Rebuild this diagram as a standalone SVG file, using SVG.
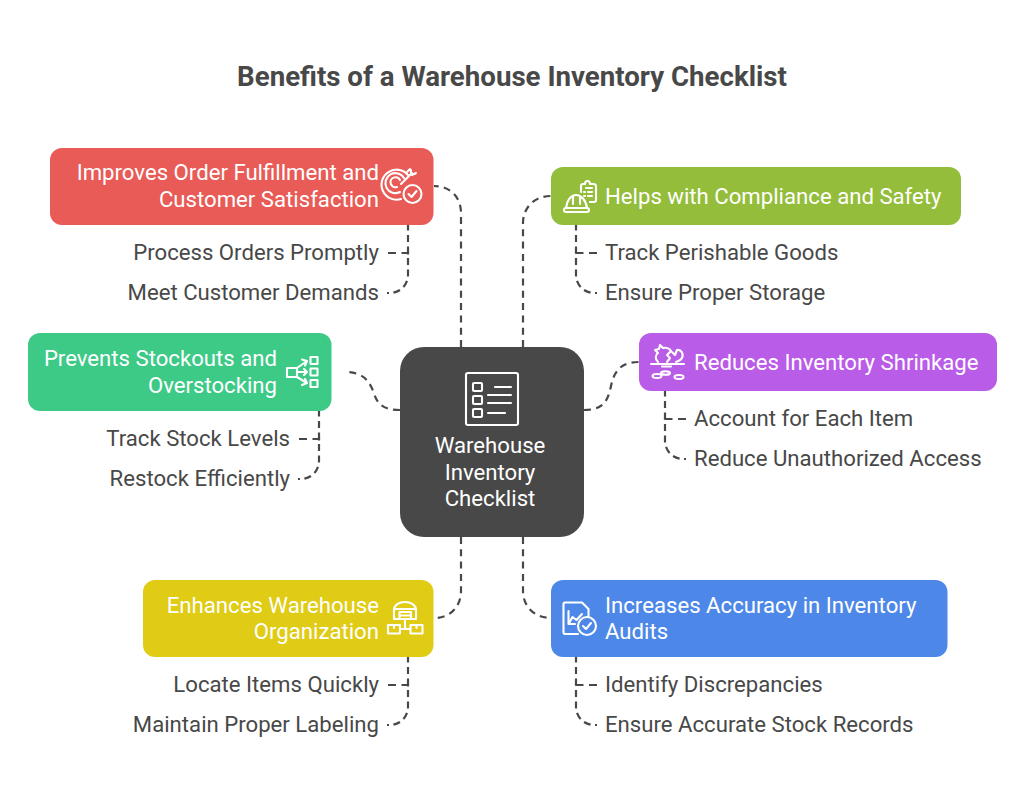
<svg xmlns="http://www.w3.org/2000/svg" width="1024" height="791" viewBox="0 0 1024 791">
<style>
text{font-family:Roboto,"Liberation Sans",sans-serif;font-size:22.16px;fill:#484848}
.t{font-size:27.66px;font-weight:700;text-anchor:middle}
.w{fill:#fff}
.e{text-anchor:end}
.c{text-anchor:middle}
.d{fill:none;stroke:#484848;stroke-width:2.2;stroke-dasharray:7 5.3}
.u{stroke-dasharray:8 5.5}
.l{stroke-dasharray:7 4.5;stroke-dashoffset:5}
.i{fill:none;stroke:#fff;stroke-width:2.1;stroke-linecap:round;stroke-linejoin:round}
</style>
<rect width="1024" height="791" fill="#fff"/>
<text class="t" x="512" y="86.300">Benefits of a Warehouse Inventory Checklist</text>
<g id="connectors">
<path class="d" d="M461 347V213C461 197 450 186 434 186"/>
<path class="d" d="M523 347V223C523 207 535 196 551 196"/>
<path class="d" d="M400 410C380 410 377 402 373 391C369 380 362 372 345 372"/>
<path class="d" d="M584 410C604 410 608 400 611 386C614 372 620 362 639 362"/>
<path class="d" d="M461 537V591C461 607 450 618 434 618"/>
<path class="d" d="M523 537V591C523 607 535 618 551 618"/>
<path class="d u" d="M388 253H408V258"/>
<path class="d l" d="M387 293H390A18 18 0 0 0 408 275V225"/>
<path class="d u" d="M597 253H576V258"/>
<path class="d l" d="M597 293H594A18 18 0 0 1 576 275V225"/>
<path class="d u" d="M299 439H319V444"/>
<path class="d l" d="M298 479H301A18 18 0 0 0 319 461V411"/>
<path class="d u" d="M686 419H665V424"/>
<path class="d l" d="M686 459H683A18 18 0 0 1 665 441V391"/>
<path class="d u" d="M388 685H408V690"/>
<path class="d l" d="M387 725H390A18 18 0 0 0 408 707V657"/>
<path class="d u" d="M597 685H576V690"/>
<path class="d l" d="M597 725H594A18 18 0 0 1 576 707V657"/>
</g>
<g id="center">
<rect x="400" y="347" width="184" height="190" rx="24" fill="#484848"/>
<g class="i"><rect x="466" y="373" width="52" height="52" rx="2"/><rect x="473" y="383" width="9" height="8" rx="1"/><rect x="473" y="396" width="9" height="8" rx="1"/><rect x="473" y="409" width="9" height="8" rx="1"/><path d="M495 387H511M488 395H511M488 403H511M488 413H505"/></g>
<text class="w c" x="490" y="453.300">Warehouse</text><text class="w c" x="490" y="480.300">Inventory</text><text class="w c" x="490" y="506.300">Checklist</text>
</g>
<g id="n1">
<rect x="50" y="148" width="383.500" height="77" rx="12" fill="#e85b56"/>
<text class="w e" x="379" y="180.300">Improves Order Fulfillment and</text><text class="w e" x="379" y="207">Customer Satisfaction</text>
<g class="i"><path d="M408 175A15 15 0 1 0 401 199M404 178A10 10 0 1 0 400 192M400 180A5 5 0 1 0 397 187"/><path d="M401 184L412 173M411 170V174H415M407 172L410 169M412 175L416 173"/><circle cx="412.500" cy="194" r="9"/><path d="M408.500 194L411.500 197L416.500 191"/></g>
</g>
<g id="n1a"><text class="e" x="379" y="260.400">Process Orders Promptly</text></g>
<g id="n1b"><text class="e" x="379" y="300.400">Meet Customer Demands</text></g>
<g id="n2">
<rect x="551" y="167" width="410" height="58" rx="12" fill="#93bd3a"/>
<text class="w" x="605" y="204">Helps with Compliance and Safety</text>
<g class="i"><rect x="564" y="208" width="25" height="4" rx="2"/><path d="M566 208C567 200 571 195 576 195C581 195 586 200 587 208M573 196V204M580 196V204"/><path d="M581 192V186Q581 184 583 184H585Q585 181 587.500 181Q590 181 590 184H593Q596 184 596 186V200Q596 202 594 202H590"/><path d="M586 188H592M584 192H585M588 192H592M584 196H585M588 196H592"/></g>
</g>
<g id="n2a"><text x="605" y="260.400">Track Perishable Goods</text></g>
<g id="n2b"><text x="605" y="300.400">Ensure Proper Storage</text></g>
<g id="n3">
<rect x="28" y="333" width="303.500" height="78" rx="12" fill="#3dc986"/>
<text class="w e" x="277" y="366.400">Prevents Stockouts and</text><text class="w e" x="277" y="393">Overstocking</text>
<g class="i"><rect x="287" y="368" width="10" height="9"/><rect x="310.500" y="357" width="7" height="7"/><rect x="310.500" y="368.500" width="7" height="7"/><rect x="310.500" y="380" width="7" height="7"/><path d="M297 368L307 361M297 372H307M297 377L307 383M302 359.500L307 361L305 365.500M304 369L307 372L304 375M302 385L307 383L305 379"/></g>
</g>
<g id="n3a"><text class="e" x="290" y="446.400">Track Stock Levels</text></g>
<g id="n3b"><text class="e" x="290" y="486.400">Restock Efficiently</text></g>
<g id="n4">
<rect x="639" y="333" width="358" height="58" rx="12" fill="#b95ce8"/>
<text class="w" x="694" y="370">Reduces Inventory Shrinkage</text>
<g class="i"><path d="M658 362C655 359 655 355 658 353L655 350L659 349L660 345L663 348C667 347 670 349 671 351L667 355L670 358L667 362M672 352L675 355L677 350C681 349 684 354 682 358C681 360 679 361 676 362M651 364H684M662 366.500H671"/><ellipse cx="657" cy="376" rx="4.500" ry="2"/><ellipse cx="665.500" cy="373" rx="4.500" ry="1.800"/><ellipse cx="679" cy="377" rx="4.500" ry="2"/></g>
</g>
<g id="n4a"><text x="694" y="426.400">Account for Each Item</text></g>
<g id="n4b"><text x="694" y="466.400">Reduce Unauthorized Access</text></g>
<g id="n5">
<rect x="143" y="580" width="290.500" height="77" rx="12" fill="#e0cb15"/>
<text class="w e" x="379" y="613">Enhances Warehouse</text><text class="w e" x="379" y="639">Organization</text>
<g class="i"><path d="M394 619V610C394 605 399 602 405 602C411 602 416 605 416 610V619ZM394 609H416M399.500 612H411V619H399.500ZM399.500 615.500H411M405 619V629"/><rect x="388" y="625" width="12" height="8.500"/><rect x="410.500" y="625" width="12" height="8.500"/><path d="M400 629H410.500M394 625V628M416.500 625V628"/></g>
</g>
<g id="n5a"><text class="e" x="379" y="692.400">Locate Items Quickly</text></g>
<g id="n5b"><text class="e" x="379" y="732.400">Maintain Proper Labeling</text></g>
<g id="n6">
<rect x="551" y="580" width="396.500" height="77" rx="12" fill="#4d88e8"/>
<text class="w" x="605" y="613">Increases Accuracy in Inventory</text><text class="w" x="605" y="639">Audits</text>
<g class="i"><path d="M578 634H565Q563.500 634 563.500 632V604Q563.500 602.500 565 602.500H582L588.500 609V617"/><path d="M568.500 611V624H575M568.500 624L572.500 617L576.500 620L582 614"/><circle cx="587" cy="626" r="9"/><path d="M583 626L586 629L591 623"/></g>
</g>
<g id="n6a"><text x="605" y="692.400">Identify Discrepancies</text></g>
<g id="n6b"><text x="605" y="732.400">Ensure Accurate Stock Records</text></g>
</svg>
